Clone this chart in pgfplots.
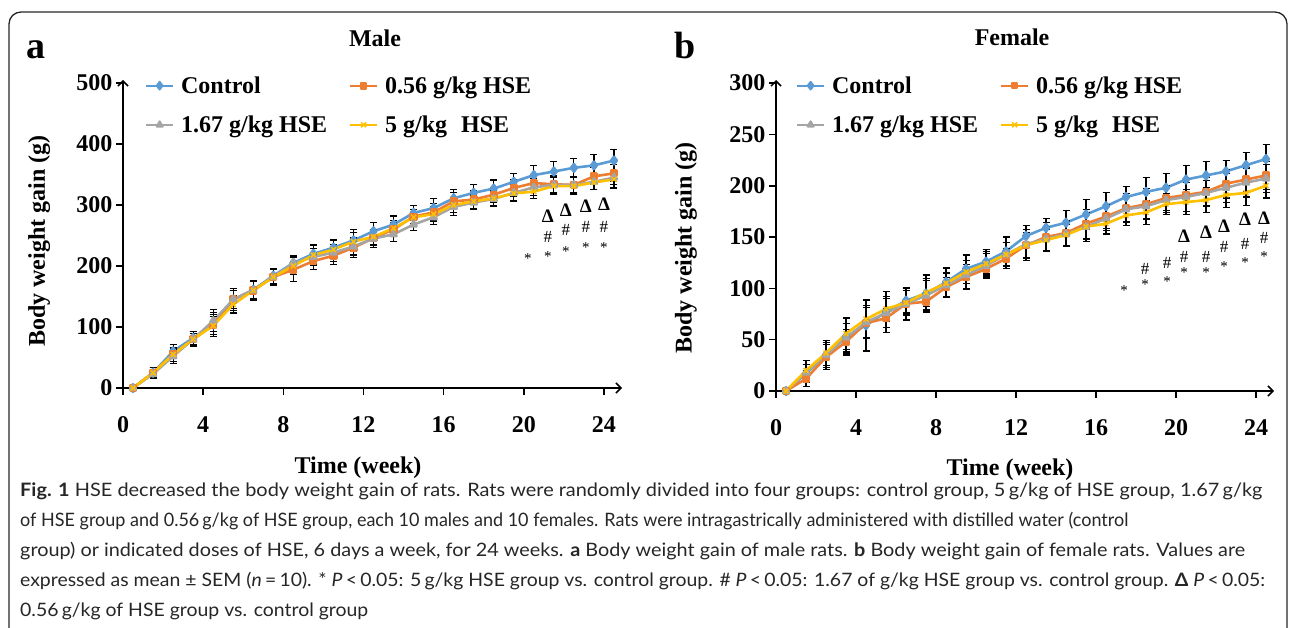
\documentclass[border=0pt]{standalone}
\usepackage{fontspec}
\setmainfont{Liberation Serif}
\newfontfamily\capfont{Lato}
\usepackage{graphicx}
\usepackage{pgfplots}
\pgfplotsset{compat=1.18}
\usepackage{pgfplotstable}
\usetikzlibrary{arrows.meta}

\definecolor{cblue}{HTML}{5B9BD5}
\definecolor{corange}{HTML}{ED7D31}
\definecolor{cgray}{HTML}{A5A5A5}
\definecolor{cyellow}{HTML}{FFC000}

% Male: x, control, 0.56, 1.67, 5 g/kg with SEM
\pgfplotstableread{
x    c    ec  o    eo  g    eg  y    ey
0.5  0    4   0    3   0    3   0    3
1.5  25   8   25   8   23   8   25   9
2.5  60   12  55   12  52   12  55   12
3.5  82   10  80   12  80   10  80   12
4.5  104  20  103  18  110  18  102  15
5.5  145  15  145  15  145  18  137  14
6.5  161  14  160  16  160  14  160  14
7.5  184  12  182  14  182  14  182  12
8.5  205  10  194  20  205  12  200  14
9.5  220  16  208  14  215  14  218  16
10.5 230  14  217  14  222  14  227  15
11.5 242  18  230  16  232  14  240  15
12.5 257  14  246  12  245  14  248  12
13.5 268  14  260  12  252  12  262  12
14.5 287  12  281  12  268  10  280  12
15.5 295  16  288  14  280  12  285  12
16.5 311  14  306  14  297  14  300  12
17.5 320  14  309  14  304  12  306  12
18.5 327  14  317  12  310  12  311  12
19.5 338  14  328  14  320  14  319  12
20.5 349  16  336  14  329  14  322  12
21.5 355  16  334  14  333  14  331  14
22.5 361  16  333  12  333  14  331  14
23.5 365  18  347  14  338  12  337  12
24.5 373  18  352  14  345  12  342  14
}\dataA

% Female
\pgfplotstableread{
x    c    ec  o    eo  g    eg  y    ey
0.5  0    2   0    2   0    2   0    2
1.5  17   9   12   8   18   8   20   10
2.5  35   14  33   12  35   12  37   12
3.5  53   18  48   12  52   14  56   16
4.5  64   25  66   15  67   16  70   18
5.5  77   20  71   9   76   14  80   12
6.5  88   12  85   15  85   16  86   12
7.5  95   18  87   8   93   15  96   14
8.5  106  14  101  10  103  12  105  14
9.5  119  14  111  12  113  14  116  16
10.5 126  12  119  8   122  12  124  12
11.5 136  14  129  10  133  12  133  12
12.5 151  10  142  15  143  14  142  12
13.5 159  9   150  14  148  12  147  10
14.5 164  12  154  12  153  12  152  10
15.5 172  15  163  14  160  12  160  14
16.5 180  13  170  12  168  12  163  10
17.5 189  10  178  14  177  12  171  10
18.5 194  14  182  15  180  12  174  12
19.5 198  14  188  12  186  12  182  10
20.5 206  14  191  16  189  14  184  12
21.5 210  14  194  14  193  12  186  12
22.5 214  11  202  14  198  14  191  12
23.5 220  12  206  12  203  14  193  12
24.5 226  14  210  14  207  14  200  12
}\dataB

\newcommand\bigf{\bfseries\fontsize{24bp}{28bp}\selectfont}
\newcommand\annf{\fontsize{15bp}{15bp}\selectfont}
\newcommand\hashf{\fontsize{17bp}{17bp}\selectfont}
\newcommand\delf{\bfseries\fontsize{19bp}{19bp}\selectfont}

\pgfplotsset{
  eb/.style={error bars/.cd, y dir=both, y explicit,
    error bar style={black, line width=1.1bp, solid},
    error mark options={black, rotate=90, mark size=3.5bp, line width=1.1bp}},
  mystyle/.style={
    scale only axis, anchor=south west, clip=false,
    xmin=0, xmax=24.9, ymin=0,
    axis lines*=left,
    axis line style={line width=1.8bp, -{Straight Barb[length=5bp,width=10bp,line width=1.5bp]}},
    xtick={0,4,...,24},
    tick align=outside, major tick length=7bp,
    tick style={line width=1.6bp, black},
    ticklabel style={font=\bfseries\fontsize{24bp}{24bp}\selectfont},
    /pgf/number format/assume math mode=true,
    xticklabel shift=18bp,
    label style={font=\bigf},
    title style={font=\bigf, anchor=center},
    legend columns=2,
    legend style={draw=none, fill=none, inner sep=0pt, anchor=north west, row sep=17bp,
      font=\bigf,
      /tikz/every odd column/.append style={column sep=5bp},
      /tikz/every even column/.append style={column sep=20bp}},
    legend cell align=left,
    legend image code/.code={\draw[line width=2bp, mark repeat=2, mark phase=2]
      plot coordinates {(0bp,0bp) (13.5bp,0bp) (27bp,0bp)};},
    every axis plot/.append style={line join=round},
  },
  pc/.style={cblue, line width=2.6bp, mark=diamond*, mark size=3.8bp, mark options={solid}},
  po/.style={corange, line width=2.6bp, mark=square*, mark size=2.8bp, mark options={solid}},
  pg/.style={cgray, line width=2.6bp, mark=triangle*, mark size=3.5bp, mark options={solid}},
  py/.style={cyellow, line width=2.6bp, mark=x, mark size=3.5bp, mark options={solid, line width=1.5bp}},
}

\begin{document}
\begin{tikzpicture}
\useasboundingbox (0,0) rectangle (1290bp,628bp);
\begin{scope}
\clip (0,0) rectangle (1290bp,628bp);
\draw[line width=1.3bp, black!85, rounded corners=12bp] (9bp,-20bp) -- (9bp,616bp) -- (1287bp,616bp) -- (1287bp,-20bp);
\end{scope}

\node[font=\bfseries\fontsize{38bp}{38bp}\selectfont] at (36bp,578bp) {a};
\node[font=\bfseries\fontsize{38bp}{38bp}\selectfont] at (685bp,582bp) {b};

% ---------------- Male ----------------
\begin{axis}[mystyle, at={(123bp,240bp)}, width=499bp, height=308bp,
  ymax=505, ytick={0,100,...,500},
  title={Male}, title style={at={(axis description cs:0.505,1.117)}},
  xlabel={Time (week)}, xlabel style={at={(axis description cs:0.471,-0.26)}, anchor=center},
  ylabel={Body weight gain (g)}, ylabel style={at={(axis description cs:-0.168,0.477)}, anchor=center},
  legend style={at={(axis description cs:0.044,1.018)}}]
\addplot[pc, eb] table[x=x, y=c, y error=ec] {\dataA};
\addlegendentry{Control}
\addplot[po, eb] table[x=x, y=o, y error=eo] {\dataA};
\addlegendentry{0.56 g/kg HSE}
\addplot[pg, eb] table[x=x, y=g, y error=eg] {\dataA};
\addlegendentry{1.67 g/kg HSE}
\addplot[py, eb] table[x=x, y=y, y error=ey] {\dataA};
\addlegendentry{5 g/kg\hspace{8bp} HSE}
% significance marks
\node[font=\annf] at (axis cs:20.2,213) {*};
\node[font=\annf] at (axis cs:21.2,215) {*};
\node[font=\annf] at (axis cs:22.1,223) {*};
\node[font=\annf] at (axis cs:23.1,231) {*};
\node[font=\annf] at (axis cs:24.0,231) {*};
\node[font=\hashf] at (axis cs:21.2,247) {\#};
\node[font=\hashf] at (axis cs:22.1,259) {\#};
\node[font=\hashf] at (axis cs:23.1,264) {\#};
\node[font=\hashf] at (axis cs:24.0,264) {\#};
\node[font=\delf] at (axis cs:21.2,282) {Δ};
\node[font=\delf] at (axis cs:22.1,292) {Δ};
\node[font=\delf] at (axis cs:23.1,298) {Δ};
\node[font=\delf] at (axis cs:24.0,302) {Δ};
\end{axis}

% ---------------- Female ----------------
\begin{axis}[mystyle, at={(776bp,237bp)}, width=498bp, height=311bp,
  ymax=303, ytick={0,50,...,300},
  title={Female}, title style={at={(axis description cs:0.474,1.119)}},
  xlabel={Time (week)}, xlabel style={at={(axis description cs:0.47,-0.254)}, anchor=center},
  ylabel={Body weight gain (g)}, ylabel style={at={(axis description cs:-0.181,0.46)}, anchor=center},
  legend style={at={(axis description cs:0.04,1.018)}}]
\addplot[pc, eb] table[x=x, y=c, y error=ec] {\dataB};
\addlegendentry{Control}
\addplot[po, eb] table[x=x, y=o, y error=eo] {\dataB};
\addlegendentry{0.56 g/kg HSE}
\addplot[pg, eb] table[x=x, y=g, y error=eg] {\dataB};
\addlegendentry{1.67 g/kg HSE}
\addplot[py, eb] table[x=x, y=y, y error=ey] {\dataB};
\addlegendentry{5 g/kg\hspace{8bp} HSE}
\node[font=\annf] at (axis cs:17.4,98) {*};
\node[font=\annf] at (axis cs:18.45,104) {*};
\node[font=\annf] at (axis cs:19.55,107) {*};
\node[font=\annf] at (axis cs:20.4,115) {*};
\node[font=\annf] at (axis cs:21.5,115) {*};
\node[font=\annf] at (axis cs:22.4,121) {*};
\node[font=\annf] at (axis cs:23.45,125) {*};
\node[font=\annf] at (axis cs:24.4,131) {*};
\node[font=\hashf] at (axis cs:18.45,119) {\#};
\node[font=\hashf] at (axis cs:19.55,125) {\#};
\node[font=\hashf] at (axis cs:20.4,131) {\#};
\node[font=\hashf] at (axis cs:21.5,131) {\#};
\node[font=\hashf] at (axis cs:22.4,140) {\#};
\node[font=\hashf] at (axis cs:23.45,143) {\#};
\node[font=\hashf] at (axis cs:24.4,149) {\#};
\node[font=\delf] at (axis cs:20.4,151) {Δ};
\node[font=\delf] at (axis cs:21.5,155) {Δ};
\node[font=\delf] at (axis cs:22.4,161) {Δ};
\node[font=\delf] at (axis cs:23.45,167) {Δ};
\node[font=\delf] at (axis cs:24.4,168) {Δ};
\end{axis}

% ---------------- Caption ----------------
\begin{scope}[every node/.style={anchor=base west, inner sep=0pt, font=\capfont\fontsize{18.5bp}{30bp}\selectfont, text=black!85}]
\node at (20bp,131bp) {\resizebox{1242bp}{\height}{\textbf{Fig. 1} HSE decreased the body weight gain of rats. Rats were randomly divided into four groups: control group, 5\,g/kg of HSE group, 1.67\,g/kg}};
\node at (20bp,101bp) {\resizebox{1108bp}{\height}{of HSE group and 0.56\,g/kg of HSE group, each 10 males and 10 females. Rats were intragastrically administered with distilled water (control}};
\node at (20bp,71bp) {\resizebox{1225bp}{\height}{group) or indicated doses of HSE, 6 days a week, for 24 weeks. \textbf{a} Body weight gain of male rats. \textbf{b} Body weight gain of female rats. Values are}};
\node at (20bp,41bp) {\resizebox{1245bp}{\height}{expressed as mean ± SEM (\textit{n}\,=\,10). * \textit{P}\,<\,0.05: 5\,g/kg HSE group vs. control group. \# \textit{P}\,<\,0.05: 1.67 of g/kg HSE group vs. control group. \textbf{Δ} \textit{P}\,<\,0.05:}};
\node at (20bp,11bp) {\resizebox{348bp}{\height}{0.56\,g/kg of HSE group vs. control group}};
\end{scope}
\end{tikzpicture}
\end{document}
